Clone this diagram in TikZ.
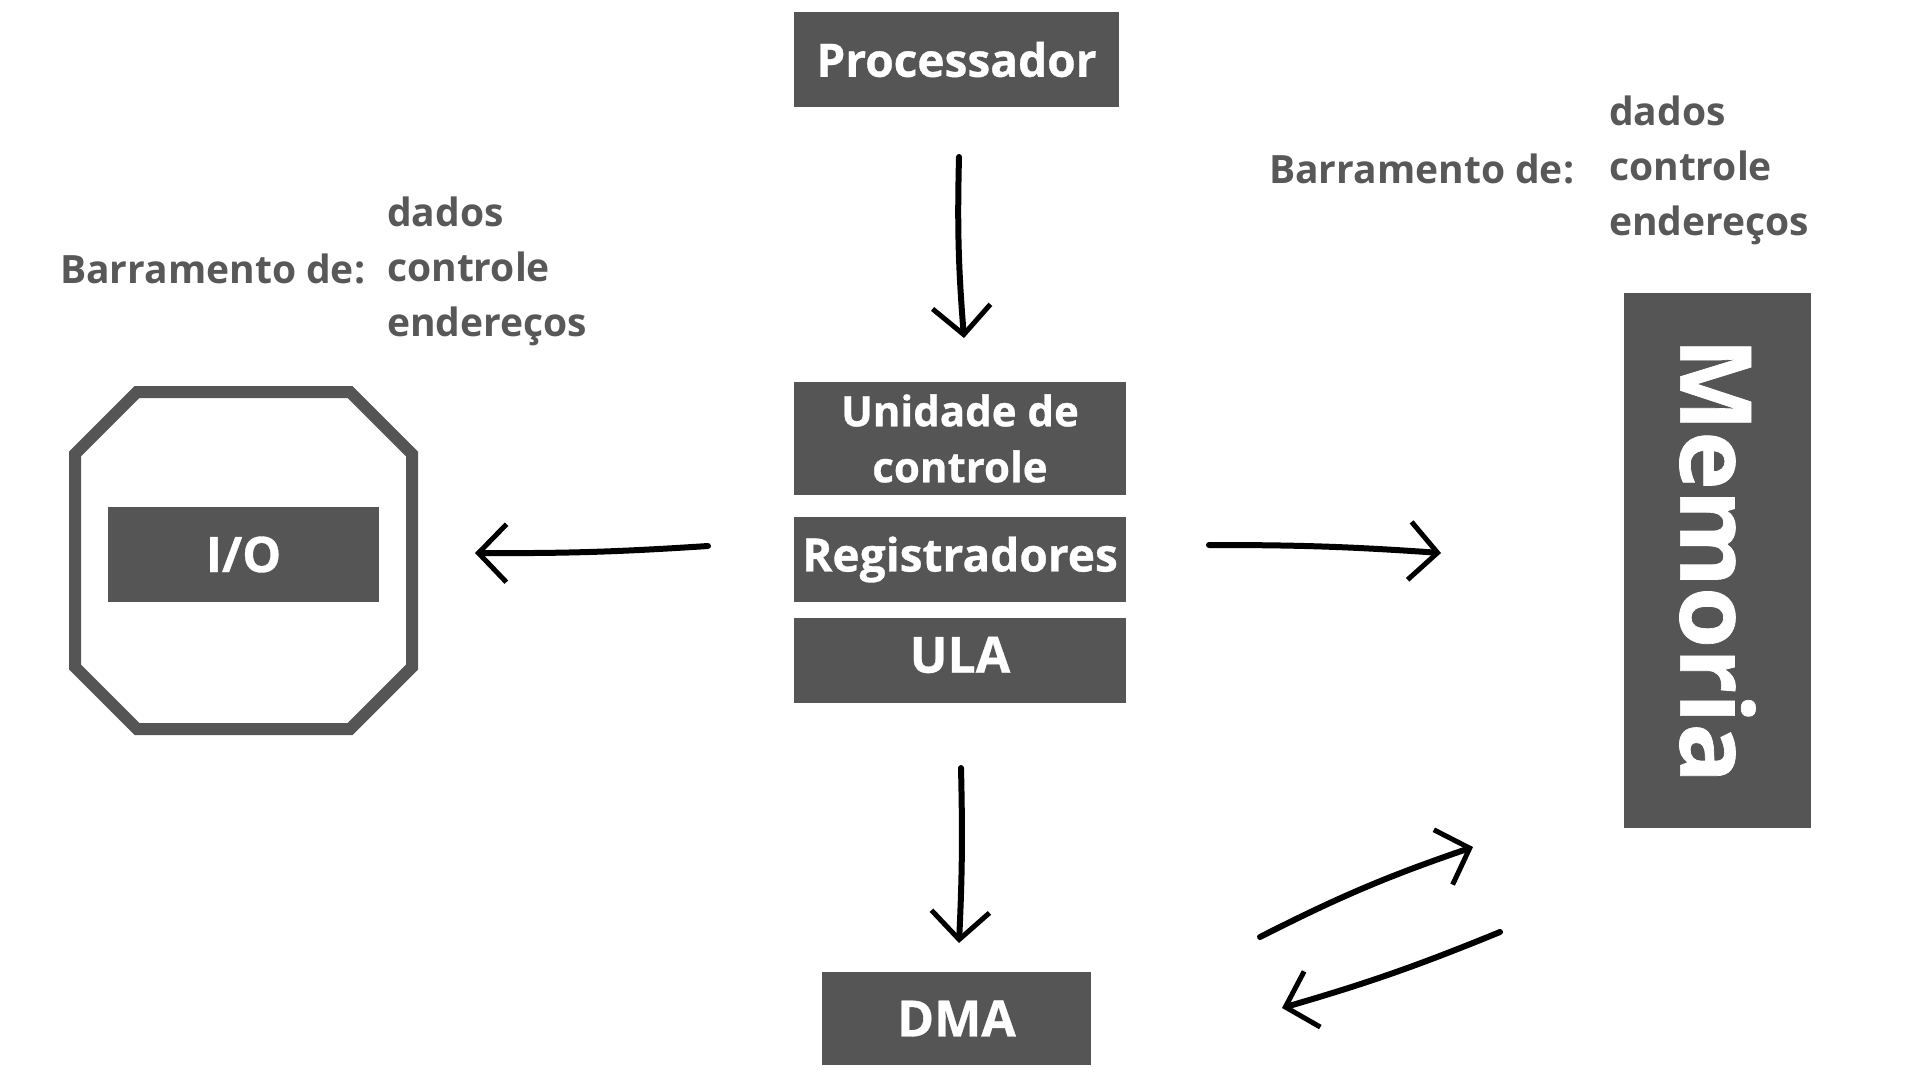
\documentclass[tikz,border=0pt]{standalone}
\usepackage{fontspec}
\setmainfont{Open Sans}
\newfontfamily\heavyfont{Open Sans}[BoldFeatures={FakeBold=0.7}]
\usetikzlibrary{arrows.meta}
\definecolor{boxgray}{HTML}{555555}
\definecolor{labelgray}{HTML}{585858}
\newcommand{\boxfont}[1]{\heavyfont\bfseries\fontsize{#1}{56}\selectfont}
\begin{document}
\begin{tikzpicture}[x=1pt,y=-1pt,
  box/.style={fill=boxgray, text=white, inner sep=0pt, align=center},
  lbl/.style={text=labelgray, font=\bfseries\fontsize{39}{55}\selectfont, inner sep=0pt},
  hand/.style={line width=6pt, line cap=round, draw=black, -{Straight Barb[length=28pt,width=58pt,line width=5pt]}}
]
\useasboundingbox (0,0) rectangle (1920,1080);
\fill[white] (0,0) rectangle (1920,1080);

% nodes
\node[box, minimum width=325pt, minimum height=95pt, font=\boxfont{46}] (proc) at (956.5,59.5) {Processador};
\node[box, minimum width=332pt, minimum height=113pt, font=\boxfont{42}] (uc) at (960,438.5) {Unidade de\\controle};
\node[box, minimum width=332pt, minimum height=85pt, font=\boxfont{46}] (reg) at (960,559.5) {Registradores};
\node[box, minimum width=332pt, minimum height=85pt] (ula) at (960,660.5) {};
\node[text=white, font=\boxfont{50}, inner sep=0pt] (ulat) at (960,655) {ULA};
\node[box, minimum width=269pt, minimum height=93pt, font=\boxfont{50}] (dma) at (956.5,1018.5) {DMA};
\node[box, minimum width=271pt, minimum height=95pt, font=\boxfont{49}] (io) at (243.5,554.5) {I/O};
\node[box, rotate=-90, minimum width=535pt, minimum height=187pt, font=\boxfont{99}] (mem) at (1717.5,560.5) {Memoria};

% octagon around I/O
\draw[line width=12pt, draw=boxgray] (137,392) -- (350,392) -- (412,454) -- (412,667) -- (350,729) -- (137,729) -- (75,667) -- (75,454) -- cycle;

% labels
\node[lbl, anchor=west] (lb1) at (60,269) {Barramento de:};
\node[lbl, anchor=base west] (l1a) at (387,226) {dados};
\node[lbl, anchor=base west] (l1b) at (387,281) {controle};
\node[lbl, anchor=base west] (l1c) at (387,336) {endereços};

\node[lbl, anchor=west] (lb2) at (1269,169) {Barramento de:};
\node[lbl, anchor=base west] (l2a) at (1609,125) {dados};
\node[lbl, anchor=base west] (l2b) at (1609,180) {controle};
\node[lbl, anchor=base west] (l2c) at (1609,235) {endereços};

% arrow end points
\coordinate (a1s) at (959,157);  \coordinate (a1e) at (964,338);
\coordinate (a2s) at (708,546);  \coordinate (a2e) at (475,553);
\coordinate (a3s) at (1209,545); \coordinate (a3e) at (1441,553);
\coordinate (a4s) at (961,768);  \coordinate (a4e) at (959,943);
\coordinate (a5s) at (1260,937); \coordinate (a5e) at (1473,847);
\coordinate (a6s) at (1500,932); \coordinate (a6e) at (1282,1008);

\draw[hand] (a1s) to[bend right=3] (a1e);
\draw[hand] (a2s) to[bend left=2] (a2e);
\draw[hand] (a3s) to[bend left=2] (a3e);
\draw[hand] (a4s) to[bend left=2] (a4e);
\draw[hand] (a5s) to[bend left=4] (a5e);
\draw[hand] (a6s) to[bend left=3] (a6e);
\end{tikzpicture}
\end{document}
